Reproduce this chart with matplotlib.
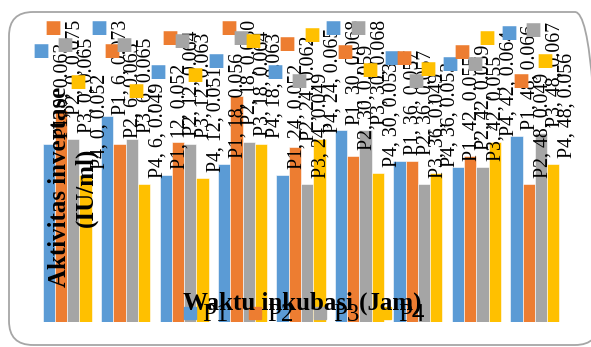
import matplotlib
matplotlib.use("Agg")
import matplotlib.pyplot as plt
import numpy as np
from matplotlib.patches import FancyBboxPatch
from matplotlib.lines import Line2D
from matplotlib.transforms import IdentityTransform

# Incubation time (hours) and invertase activity (IU/ml) per treatment
times = [0, 6, 12, 18, 24, 30, 36, 42, 48]
series_names = ["P1", "P2", "P3", "P4"]
p1 = [0.063, 0.073, 0.052, 0.056, 0.052, 0.068, 0.057, 0.055, 0.066]
p2 = [0.075, 0.063, 0.064, 0.080, 0.062, 0.059, 0.057, 0.059, 0.049]
p3 = [0.065, 0.065, 0.063, 0.064, 0.049, 0.068, 0.049, 0.055, 0.067]
p4 = [0.052, 0.049, 0.051, 0.063, 0.065, 0.053, 0.053, 0.064, 0.056]
colors = ["#5B9BD5", "#ED7D31", "#A5A5A5", "#FFC000"]

W, H, DPI = 591, 347, 100
fig = plt.figure(figsize=(W / DPI, H / DPI), dpi=DPI)
serif = "Liberation Serif"

# rounded chart-area frame (pixel coordinates)
frame = FancyBboxPatch((9, 2), 590, 333, boxstyle="round,pad=0,rounding_size=24",
                       transform=IdentityTransform(), facecolor="none",
                       edgecolor="#A6A6A6", linewidth=1.3, zorder=0)
fig.patches.append(frame)

ax = fig.add_axes([38 / W, 25 / H, 526 / W, 282 / H])
ax.set_xlim(-0.5, len(times) - 0.5)
ax.set_ylim(0, 0.1)
ax.axis("off")

x = np.arange(len(times))
bw = 0.21
all_series = [p1, p2, p3, p4]
labels = []
for i, (name, vals, col) in enumerate(zip(series_names, all_series, colors)):
    xs = x + (i - 1.5) * bw
    ax.bar(xs, vals, width=bw, color=col, edgecolor="white", linewidth=0.4, zorder=2)
    for xi, t, v in zip(xs, times, vals):
        ann = ax.annotate(f"{name}, {t}, {v:.3f}", xy=(xi, v), xytext=(14, 6),
                          textcoords="offset pixels", rotation=90, ha="center",
                          va="bottom", fontsize=14.3, family=serif, color="black",
                          zorder=5, annotation_clip=False)
        labels.append((ann, xi, v, col))

# keep data labels inside the chart area, then attach a legend key to each
fig.canvas.draw()
renderer = fig.canvas.get_renderer()
top_limit = H - 20
for ann, xi, v, col in labels:
    bb = ann.get_window_extent(renderer)
    dy = 6
    if bb.y1 > top_limit:
        dy -= bb.y1 - top_limit
        ann.xyann = (14, dy)
    length = bb.height
    ax.annotate("\u25A0", xy=(xi, v), xytext=(-8, dy + length - 8),
                textcoords="offset pixels", ha="center", va="center", fontsize=13,
                color=col, family="DejaVu Sans", zorder=6, annotation_clip=False)

fig.text(73 / W, 1 - 187 / H, "Aktivitas invertase\n(IU/ml)", rotation=90,
         ha="center", va="center", multialignment="center", fontsize=18,
         fontweight="bold", family=serif, zorder=7)
fig.text(302 / W, 1 - 303 / H, "Waktu inkubasi (Jam)", ha="center", va="center",
         fontsize=18, fontweight="bold", family=serif, zorder=7)

handles = [Line2D([], [], linestyle="none", marker="s", markersize=8.6,
                  markerfacecolor=c, markeredgecolor=c) for c in colors]
fig.legend(handles, series_names, loc="center", bbox_to_anchor=(304 / W, 1 - 315 / H),
           ncol=4, frameon=False, prop={"family": serif, "size": 18},
           handlelength=0.5, handletextpad=0.25, columnspacing=0.8, borderpad=0)

fig.savefig("out.png", dpi=DPI)
